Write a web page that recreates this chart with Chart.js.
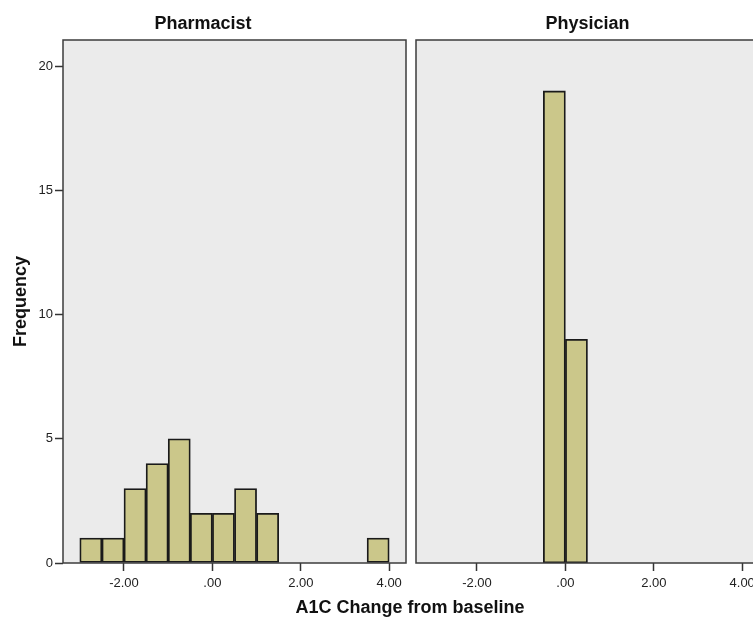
<!DOCTYPE html>
<html>
<head>
<meta charset="utf-8">
<script src="https://cdn.jsdelivr.net/npm/chart.js@4"></script>
<style>
  html, body { margin: 0; padding: 0; background: #fff; }
  #wrap { position: relative; width: 753px; height: 623px; overflow: hidden; }
  #boxLeft { position: absolute; left: 0; top: 0; width: 420px; height: 623px; }
  #boxRight { position: absolute; left: 406px; top: 0; width: 360px; height: 623px; }
  #xTitle {
    position: absolute; left: 0; width: 820px; top: 597px; text-align: center;
    font: bold 18px Arial, 'Liberation Sans', sans-serif; color: #111;
  }
</style>
</head>
<body>
<div id="wrap">
  <div id="boxLeft"><canvas id="chartPharmacist"></canvas></div>
  <div id="boxRight"><canvas id="chartPhysician"></canvas></div>
  <div id="xTitle">A1C Change from baseline</div>
</div>
<script>
  // Centros de los bins (ancho 0.5) y frecuencias
  const pharmacistBins = [-2.75, -2.25, -1.75, -1.25, -0.75, -0.25, 0.25, 0.75, 1.25, 3.75];
  const pharmacistCounts = [1, 1, 3, 4, 5, 2, 2, 3, 2, 1];
  const physicianBins = [-0.25, 0.25];
  const physicianCounts = [19, 9];

  const xTicks = [-2, 0, 2, 4];
  const yTicks = [0, 5, 10, 15, 20];
  const xMin = -3.38, xMax = 4.38;
  const yMax = 21.05;

  const FONT = "Arial, 'Liberation Sans', sans-serif";
  const BAR_FILL = '#CBC78A';
  const PANEL_BG = '#EBEBEB';

  // Fondo gris y marco del panel
  const panelBox = {
    id: 'panelBox',
    beforeDatasetsDraw(chart) {
      const a = chart.chartArea, ctx = chart.ctx;
      ctx.save();
      ctx.fillStyle = PANEL_BG;
      ctx.fillRect(a.left, a.top, a.right - a.left, a.bottom - a.top);
      ctx.restore();
    },
    afterDatasetsDraw(chart) {
      const a = chart.chartArea, ctx = chart.ctx;
      ctx.save();
      ctx.strokeStyle = '#3c3c3c';
      ctx.lineWidth = 1.5;
      ctx.strokeRect(a.left, a.top, a.right - a.left, a.bottom - a.top);
      ctx.restore();
    }
  };

  function makeChart(canvasId, title, bins, counts, showY, padding) {
    const points = bins.map((b, i) => ({ x: b, y: counts[i] }));
    return new Chart(document.getElementById(canvasId), {
      type: 'bar',
      data: {
        datasets: [{
          data: points,
          backgroundColor: BAR_FILL,
          borderColor: '#1a1a1a',
          borderWidth: 1.8,
          borderSkipped: false,
          barPercentage: 1,
          categoryPercentage: 1
        }]
      },
      options: {
        responsive: true,
        maintainAspectRatio: false,
        animation: false,
        layout: { padding: padding },
        plugins: {
          legend: { display: false },
          tooltip: { enabled: false },
          title: {
            display: true,
            text: title,
            color: '#111',
            font: { family: FONT, size: 18, weight: 'bold', lineHeight: 1.2 },
            padding: { top: 13, bottom: 5.4 }
          }
        },
        scales: {
          x: {
            type: 'linear',
            min: xMin,
            max: xMax,
            offset: false,
            grid: { display: true, offset: false, drawOnChartArea: false, drawTicks: true, tickLength: 8, tickColor: '#333', tickWidth: 1.5 },
            border: { display: false },
            afterBuildTicks: s => { s.ticks = xTicks.map(v => ({ value: v })); },
            afterFit: s => { s.height = 60; },
            ticks: {
              color: '#222',
              padding: 5,
              maxRotation: 0,
              font: { family: FONT, size: 13 },
              callback: v => v === 0 ? '.00' : v.toFixed(2)
            }
          },
          y: {
            display: showY,
            min: 0,
            max: yMax,
            grid: { display: true, drawOnChartArea: false, drawTicks: true, tickLength: 8, tickColor: '#333', tickWidth: 1.5 },
            border: { display: false },
            afterBuildTicks: s => { s.ticks = yTicks.map(v => ({ value: v })); },
            afterFit: s => { s.width = showY ? 63 : 0; },
            title: {
              display: true,
              text: 'Frequency',
              color: '#111',
              font: { family: FONT, size: 18, weight: 'bold', lineHeight: 1.2 },
              padding: { top: 10, bottom: 0 }
            },
            ticks: {
              color: '#222',
              padding: 2,
              font: { family: FONT, size: 13 }
            }
          }
        }
      },
      plugins: [panelBox]
    });
  }

  makeChart('chartPharmacist', 'Pharmacist', pharmacistBins, pharmacistCounts, true,
    { left: 0, right: 14, top: 0, bottom: 0 });
  makeChart('chartPhysician', 'Physician', physicianBins, physicianCounts, false,
    { left: 10, right: 7, top: 0, bottom: 0 });
</script>
</body>
</html>
